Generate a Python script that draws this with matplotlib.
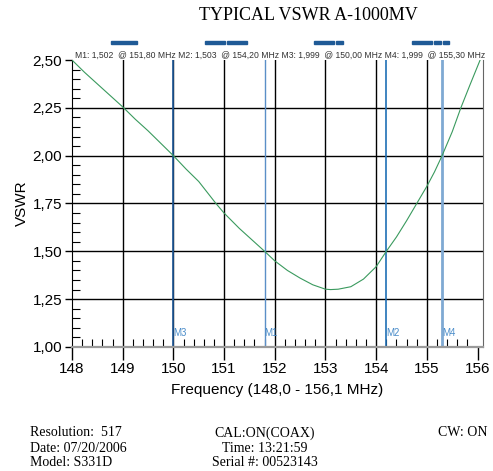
import matplotlib
matplotlib.use("Agg")
import matplotlib.pyplot as plt
from matplotlib.ticker import FuncFormatter, MultipleLocator
from matplotlib.patches import Rectangle

plt.rcParams["font.family"] = ["Liberation Sans", "DejaVu Sans"]

# VSWR trace
freq = [148.0, 148.25, 148.5, 148.75, 149.0, 149.25, 149.5, 149.75, 150.0,
        150.25, 150.5, 150.84, 151.0, 151.3, 151.55, 151.8, 152.0, 152.25,
        152.5, 152.75, 153.0, 153.1, 153.25, 153.5, 153.75, 154.0, 154.2,
        154.4, 154.6, 154.8, 155.0, 155.15, 155.3, 155.5, 155.67, 155.85, 156.05]
vswr = [2.50, 2.435, 2.375, 2.315, 2.255, 2.19, 2.13, 2.065, 2.00,
        1.93, 1.865, 1.75, 1.70, 1.62, 1.56, 1.50, 1.45, 1.40,
        1.36, 1.325, 1.302, 1.300, 1.302, 1.315, 1.355, 1.42, 1.50,
        1.575, 1.66, 1.75, 1.84, 1.915, 2.00, 2.125, 2.25, 2.37, 2.50]

markers = ["M1", "M2", "M3", "M4"]
marker_freq = [151.80, 154.20, 150.00, 155.30]
marker_val = [1.502, 1.503, 1.999, 1.999]
marker_col = ["#5b8fc7", "#1f6fb5", "#1f5a9a", "#7fa9d3"]
marker_lw = [1.0, 1.2, 1.2, 2.0]

def comma(x, pos=None, nd=2):
    return f"{x:.{nd}f}".replace(".", ",")

fig = plt.figure(figsize=(4.93, 4.71), dpi=100)
ax = fig.add_axes([0.146, 0.2633, 0.833, 0.6093])

ax.set_xlim(148, 156.1)
ax.set_ylim(1.0, 2.5)

# grid
for f in range(149, 156):
    ax.axvline(f, color="black", lw=1.0, zorder=1)
for v in [1.25, 1.5, 1.75, 2.0, 2.25]:
    ax.axhline(v, color="black", lw=1.0, zorder=1)

# marker lines
for m, f, c, lw in zip(markers, marker_freq, marker_col, marker_lw):
    ax.axvline(f, color=c, lw=lw, zorder=2)
    ax.text(f, 1.045, m, color="#4a8cc9", fontsize=7, ha="left", va="bottom",
            zorder=4)

ax.plot(freq, vswr, color="#3a9a5e", lw=0.8, zorder=3)

# ticks
ax.xaxis.set_major_locator(MultipleLocator(1))
ax.xaxis.set_minor_locator(MultipleLocator(0.2))
ax.yaxis.set_major_locator(MultipleLocator(0.25))
ax.yaxis.set_minor_locator(MultipleLocator(0.05))
ax.yaxis.set_major_formatter(FuncFormatter(comma))
ax.xaxis.set_major_formatter(FuncFormatter(lambda x, p: f"{x:.0f}"))
ax.tick_params(axis="x", which="major", direction="out", length=9, width=1,
               labelsize=11, pad=2)
ax.tick_params(axis="x", which="minor", direction="in", length=6, width=0.8)
ax.tick_params(axis="y", which="major", direction="out", length=5, width=1,
               labelsize=11, pad=2)
ax.tick_params(axis="y", which="minor", direction="in", length=6, width=0.8)

ax.spines["top"].set_visible(False)
ax.spines["right"].set_color("#666666")
ax.spines["right"].set_linewidth(0.8)
ax.spines["bottom"].set_color("#9a9a9a")
ax.spines["bottom"].set_linewidth(1.6)
ax.spines["left"].set_color("black")

ax.set_xlabel("Frequency (148,0 - 156,1 MHz)", fontsize=11, labelpad=5)
ax.set_ylabel("VSWR", fontsize=11, labelpad=3)

# marker readout line
readout = "  ".join(f"{m}: {comma(v, nd=3)}  @ {comma(f)} MHz"
                    for m, f, v in zip(markers, marker_freq, marker_val))
readout = readout.replace(" MHz  M", " MHz M")
fig.text(0.152, 0.874, readout, fontsize=6.2, ha="left", va="bottom",
         color="#333333")

# blue bar strip above the plot
bars = [(111, 136.5), (205, 225), (227, 247), (314, 334), (336, 342.5),
        (412, 432), (434, 441), (443, 449)]
for x0, x1 in bars:
    fig.patches.append(Rectangle((x0 / 493, 1 - 44 / 471), (x1 - x0) / 493,
                                 3.5 / 471, transform=fig.transFigure,
                                 color="#1f5a96"))

fig.text(0.625, 0.968, "TYPICAL VSWR A-1000MV", fontsize=13,
         family="Liberation Serif", ha="center", va="center")

serif = dict(family="Liberation Serif", fontsize=10, va="center")
fig.text(0.061, 1 - 433 / 471, "Resolution:  517", ha="left", **serif)
fig.text(0.061, 1 - 448 / 471, "Date: 07/20/2006", ha="left", **serif)
fig.text(0.061, 1 - 463 / 471, "Model: S331D", ha="left", **serif)
fig.text(0.537, 1 - 433 / 471, "CAL:ON(COAX)", ha="center", **serif)
fig.text(0.537, 1 - 448 / 471, "Time: 13:21:59", ha="center", **serif)
fig.text(0.537, 1 - 463 / 471, "Serial #: 00523143", ha="center", **serif)
fig.text(0.889, 1 - 433 / 471, "CW: ON", ha="left", **serif)

fig.savefig("out.png", dpi=100)
